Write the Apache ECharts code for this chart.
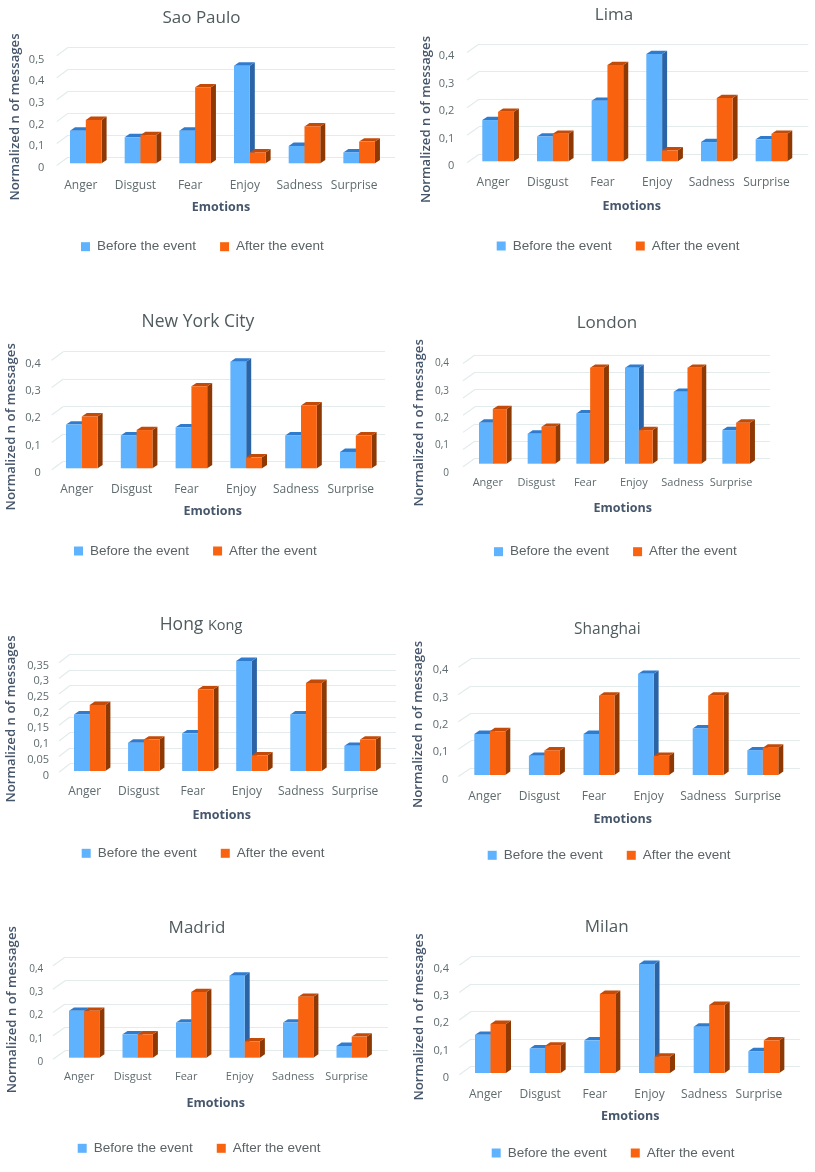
<!DOCTYPE html>
<html>
<head>
<meta charset="utf-8">
<style>html,body{margin:0;padding:0;background:#fff}#c{width:815px;height:1172px}</style>
<script src="https://cdn.jsdelivr.net/npm/echarts@6/dist/echarts.min.js"></script>
</head>
<body>
<div id="c"></div>
<script>
const categories = ['Anger','Disgust','Fear','Enjoy','Sadness','Surprise'];
const seriesNames = ['Before the event','After the event'];
const cities = ['Sao Paulo','Lima','New York City','London','Hong Kong','Shanghai','Madrid','Milan'];

const saoPauloBefore = [0.15,0.12,0.15,0.45,0.08,0.05];
const saoPauloAfter  = [0.20,0.13,0.35,0.05,0.17,0.10];
const limaBefore     = [0.15,0.09,0.22,0.39,0.07,0.08];
const limaAfter      = [0.18,0.10,0.35,0.04,0.23,0.10];
const nycBefore      = [0.16,0.12,0.15,0.39,0.12,0.06];
const nycAfter       = [0.19,0.14,0.30,0.04,0.23,0.12];
const londonBefore   = [0.15,0.11,0.184,0.351,0.263,0.123];
const londonAfter    = [0.20,0.135,0.351,0.123,0.351,0.15];
const hongKongBefore = [0.18,0.09,0.12,0.35,0.18,0.08];
const hongKongAfter  = [0.21,0.10,0.26,0.05,0.28,0.10];
const shanghaiBefore = [0.15,0.07,0.15,0.37,0.17,0.09];
const shanghaiAfter  = [0.16,0.09,0.29,0.07,0.29,0.10];
const madridBefore   = [0.20,0.10,0.15,0.35,0.15,0.05];
const madridAfter    = [0.20,0.10,0.28,0.07,0.26,0.09];
const milanBefore    = [0.14,0.09,0.12,0.40,0.17,0.08];
const milanAfter     = [0.18,0.10,0.29,0.06,0.25,0.12];

const beforeValues = [saoPauloBefore,limaBefore,nycBefore,londonBefore,hongKongBefore,shanghaiBefore,madridBefore,milanBefore];
const afterValues  = [saoPauloAfter,limaAfter,nycAfter,londonAfter,hongKongAfter,shanghaiAfter,madridAfter,milanAfter];

const yMaxes = [0.5,0.4,0.4,0.4,0.35,0.4,0.4,0.4];
const yIntervals = [0.1,0.1,0.1,0.1,0.05,0.1,0.1,0.1];

// page layout, one entry per chart
const layouts = [
 {x0:70,   step:54.67,barW:15.8,y0:163.3, top:54.8,  wTop:47.3, wBot:157,   wL:68.3, wR:395,  sL:56.7, wN:5,lr:44.3, lh:2.7,ly:184.7,lf:12,  tx:201.5,ty:17,  tf:17,nx:221,  ny:207.3,yx:15.7,yy:117,  gx:81,  gy:245.7},
 {x0:482.3,step:54.67,barW:15.8,y0:161.3, top:51.3,  wTop:44,   wBot:154.3, wL:479,  wR:808.3,sL:467, wN:4,lr:454.3,lh:2.7,ly:181.7,lf:12,  tx:614,  ty:14,  tf:17,nx:631.7,ny:206,  yx:426.7,yy:119.5,gx:496.7,gy:245},
 {x0:66,   step:54.8, barW:15.8,y0:468.3, top:359,   wTop:351.7,wBot:461.3, wL:63.3, wR:385,  sL:51.7, wN:4,lr:40.7, lh:2.7,ly:488.7,lf:12,  tx:198,  ty:320.7,tf:17.5,nx:212.7,ny:511.3,yx:11.7,yy:426.8,gx:74,  gy:550},
 {x0:479,  step:48.67,barW:13.8,y0:463.7, top:354.4, wTop:355,  wBot:458.3, wL:475,  wR:770,  sL:463,  wN:6,lr:449,  lh:7,  ly:482.7,lf:11,  tx:607,  ty:321.7,tf:17,nx:622.7,ny:508.3,yx:419.3,yy:422.8,gx:494,gy:550.7},
 {x0:74,   step:54.07,barW:15.7,y0:771,   top:661,   wTop:654.3,wBot:763.7, wL:70,   wR:396,  sL:59,   wN:7,lr:49,   lh:2.5,ly:791,  lf:12,  tx:201,  ty:624, tf:17.5,nx:221.7,ny:815.7,yx:11.7,yy:719,  gx:81.7,gy:852.3},
 {x0:474.3,step:54.6, barW:15.5,y0:775,   top:665.6, wTop:658.7,wBot:768,   wL:471,  wR:800,  sL:458.3,wN:4,lr:448.3,lh:2.7,ly:795.7,lf:12,  tx:607.3,ty:628.3,tf:15.5,nx:622.7,ny:819.3,yx:418.3,yy:724.5,gx:487.7,gy:854.3},
 {x0:69,   step:53.5, barW:15.2,y0:1057.7,top:964,   wTop:957.3,wBot:1050.7,wL:65,   wR:388,  sL:53,   wN:4,lr:43.3, lh:2.8,ly:1076.7,lf:11, tx:197,  ty:926.7,tf:17,nx:215.7,ny:1103, yx:12.7,yy:1009.7,gx:77.7,gy:1147.3},
 {x0:475,  step:54.67,barW:15.5,y0:1073,  top:964,   wTop:956.7,wBot:1066.3,wL:471,  wR:800,  sL:459.3,wN:4,lr:449,  lh:2.8,ly:1093.7,lf:12, tx:606.7,ty:925.7,tf:17,nx:630.3,ny:1116.3,yx:419.3,yy:1017,gx:491.7,gy:1152}
];

const FACE = [{front:'#5fb2fd',side:'#2a63a6',top:'#2f7ccf'},{front:'#f96310',side:'#8e3904',top:'#c44a08'}];
const depthX = 5, depthY = 3.4;
const SANS = '"Open Sans", sans-serif';
const TEXT = '#5f6b6e', NAME = '#46566b', LINE = '#e3ebed';

function barRender(which, barW){
  return function(params, api){
    const c = api.coord([api.value(0), api.value(1)]);
    const b = api.coord([api.value(0), 0]);
    const l = c[0] - barW + which*barW, r = l + barW, t = c[1], y0 = b[1];
    const f = FACE[which];
    const poly = (pts, fill) => ({type:'polygon', shape:{points:pts}, style:{fill}, silent:true});
    return {type:'group', children:[
      poly([[r,t],[r+depthX,t-depthY],[r+depthX,y0-depthY],[r,y0]], f.side),
      poly([[l,t],[l+depthX,t-depthY],[r+depthX,t-depthY],[r,t]], f.top),
      poly([[l,t],[r,t],[r,y0],[l,y0]], f.front)
    ]};
  };
}
function slantRender(dx, dy){
  return function(params, api){
    const p = api.coord([0, api.value(0)]);
    return {type:'line', shape:{x1:p[0],y1:p[1],x2:p[0]-dx,y2:p[1]+dy}, style:{stroke:LINE,lineWidth:1.2}, silent:true};
  };
}

const option = {backgroundColor:'#fff', animation:false, title:[], legend:[], grid:[], xAxis:[], yAxis:[], series:[]};

cities.forEach((city,i)=>{
  const L = layouts[i];
  const left = L.x0 - (L.step - 2*L.barW)/2;
  const width = L.step*6;
  const height = L.y0 - L.top;
  const gB = option.grid.length;
  option.grid.push({left, top:L.top, width, height});
  option.grid.push({left:L.wL, top:L.wTop, width:L.wR-L.wL, height:L.wBot-L.wTop});

  const axCx = left + width/2, axCy = L.top + height/2;
  const sx = L.nx - axCx, sy = L.yy - axCy;

  option.xAxis.push({
    type:'category', gridIndex:gB, data:categories, boundaryGap:true,
    axisLine:{show:false}, axisTick:{show:false}, splitLine:{show:false},
    axisLabel:{color:TEXT, fontFamily:SANS, fontSize:L.lf, letterSpacing:0.3, interval:0, margin:L.ly-L.y0-5,
      padding:[0,10,0,0], hideOverlap:false},
    name:'Emotions', nameLocation:'middle', nameGap:L.ny-L.y0,
    nameMoveOverlap:false,
    nameTextStyle:{color:NAME, fontFamily:SANS, fontWeight:700, fontSize:12.5,
      verticalAlign:'middle',
      padding: sx>=0 ? [0,0,0,2*sx] : [0,-2*sx,0,0]}
  });
  option.yAxis.push({
    type:'value', gridIndex:gB, min:0, max:yMaxes[i], interval:yIntervals[i],
    axisLine:{show:false}, axisTick:{show:false}, splitLine:{show:false},
    axisLabel:{color:TEXT, fontFamily:SANS, fontSize:L.lf-1, margin:left-L.lr,
      verticalAlign:'top', lineHeight:2*L.lh+4,
      formatter:v=>String(v).replace('.',',')},
    name:'Normalized n of messages', nameLocation:'middle', nameGap:left-L.yx, nameRotate:90,
    nameMoveOverlap:false,
    nameTextStyle:{color:NAME, fontFamily:SANS, fontWeight:600, fontSize:13.2,
      verticalAlign:'middle',
      padding: sy>=0 ? [0,2*sy,0,0] : [0,0,0,-2*sy]}
  });
  // back wall with its own grid lines
  option.xAxis.push({type:'value', gridIndex:gB+1, min:0, max:1, show:false});
  option.yAxis.push({type:'value', gridIndex:gB+1, min:0, max:L.wN, interval:1,
    axisLine:{show:false}, axisTick:{show:false}, axisLabel:{show:false},
    splitLine:{show:true, lineStyle:{color:LINE,width:1.2}}});

  option.series.push({
    type:'custom', xAxisIndex:gB+1, yAxisIndex:gB+1, z:1, silent:true, clip:false,
    data:Array.from({length:L.wN+1},(_,k)=>[k]), encode:{y:0},
    renderItem:slantRender(L.wL-L.sL, 8.5)
  });
  [beforeValues[i], afterValues[i]].forEach((vals,w)=>{
    option.series.push({
      type:'custom', name:seriesNames[w], xAxisIndex:gB, yAxisIndex:gB, z:2+w, silent:true, clip:false,
      itemStyle:{color:FACE[w].front},
      data:vals.map((v,k)=>[k,v]), encode:{x:0,y:1},
      renderItem:barRender(w, L.barW)
    });
  });

  const titleText = city==='Hong Kong' ? '{a|Hong} {b|Kong}' : city;
  option.title.push({
    text:titleText, left:L.tx, top:L.ty-11.5, textAlign:'center', padding:0,
    textStyle:{color:'#4f5b5e', fontFamily:SANS, fontWeight:400, fontSize:L.tf, lineHeight:26,
      rich:{a:{fontFamily:SANS,fontSize:17.5,color:'#4f5b5e',lineHeight:26},b:{fontFamily:SANS,fontSize:14.5,color:'#4f5b5e',lineHeight:26}}}
  });
  option.legend.push({
    data:seriesNames, left:L.gx, top:L.gy-8, orient:'horizontal', padding:0, selectedMode:false,
    icon:'rect', itemWidth:9, itemHeight:9, itemGap:24,
    textStyle:{color:'#5c6366', fontFamily:'"Liberation Sans", sans-serif', fontSize:13.5, lineHeight:18, padding:[0,0,0,2]}
  });
});

const chart = echarts.init(document.getElementById('c'), null, {renderer:'canvas', width:815, height:1172});
chart.setOption(option);
</script>
</body>
</html>
